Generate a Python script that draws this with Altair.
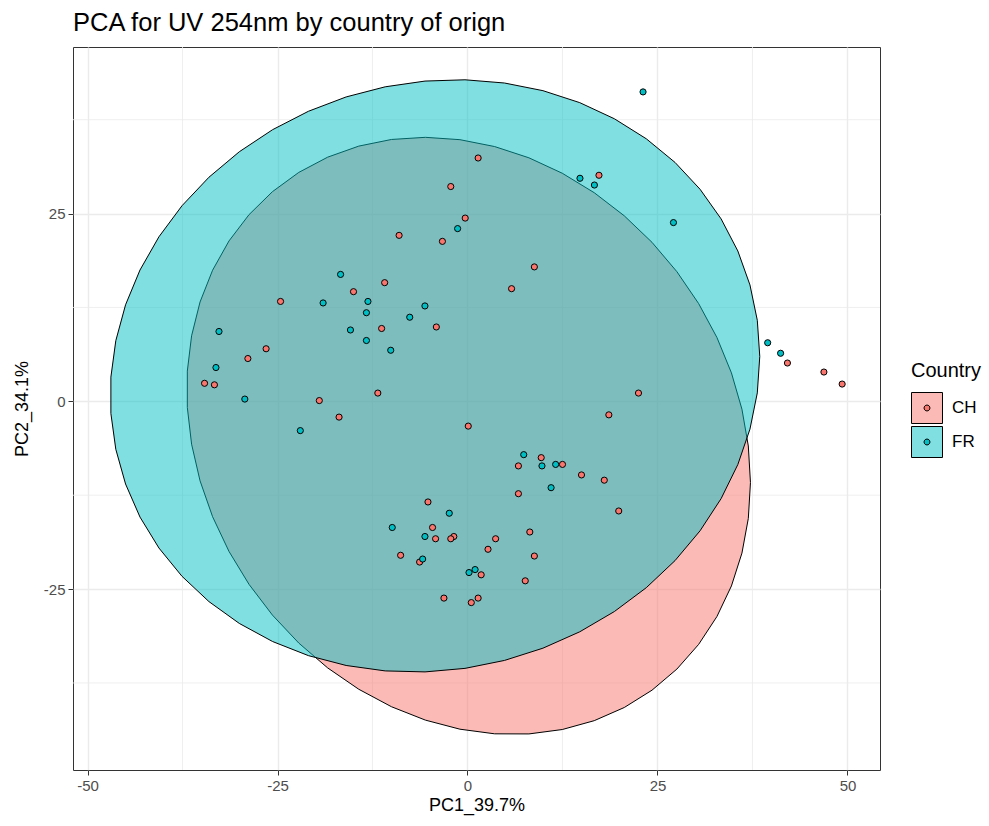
import numpy as np
import pandas as pd
import altair as alt

# PCA scores of the UV 254 nm profiles, one pair per sample
ch_pc1 = [1.4, -2.2, -0.3, -9.0, -3.3, 8.8, -10.9, 5.8, 17.3, -15.0,
          -24.6, -11.3, -26.5, -28.9, -34.6, -33.3, -19.5, -16.9, -11.8, -4.1,
          0.1, 42.1, 46.9, 49.3, 22.5, 18.6, 15.0, 18.0, 19.9, 9.7,
          6.7, 12.5, 6.7, -5.2, -4.6, -4.2, -1.8, -2.2, 3.7, 8.2,
          2.7, -8.8, -6.3, 8.8, 1.8, 7.6, -3.1, 1.4, 0.5]
ch_pc2 = [32.4, 28.6, 24.4, 22.1, 21.3, 17.9, 15.8, 15.0, 30.1, 14.6,
          13.3, 9.7, 7.0, 5.7, 2.4, 2.2, 0.1, -2.1, 1.1, 9.9,
          -3.3, 5.1, 3.9, 2.3, 1.1, -1.8, -9.8, -10.5, -14.6, -7.5,
          -8.6, -8.4, -12.3, -13.4, -16.8, -18.3, -18.0, -18.3, -18.3, -17.4,
          -19.7, -20.5, -21.4, -20.6, -23.1, -23.9, -26.2, -26.2, -26.8]

fr_pc1 = [23.1, -1.3, 14.8, 16.7, 27.1, -16.7, -19.0, -13.1, -13.3, -15.4,
          -13.3, -32.7, -33.1, -29.3, -22.0, -5.6, -7.6, -10.1, 39.5, 41.2,
          7.4, 9.8, 11.6, 11.0, -2.4, -9.9, -5.6, -5.9, 1.0, 0.2]
fr_pc2 = [41.2, 23.0, 29.7, 28.8, 23.8, 16.9, 13.1, 13.3, 11.8, 9.5,
          8.1, 9.3, 4.5, 0.3, -3.9, 12.7, 11.2, 6.8, 7.8, 6.4,
          -7.1, -8.6, -8.4, -11.5, -14.9, -16.8, -18.0, -21.0, -22.4, -22.8]

countries = ["CH", "FR"]
point_colors = ["#F8766D", "#00BFC4"]
ellipse_fills = ["rgba(248,118,109,0.5)", "rgba(0,191,196,0.5)"]

x_ticks = [-50, -25, 0, 25, 50]
y_ticks = [-25, 0, 25]
x_minor = [-37.5, -12.5, 12.5, 37.5]
y_minor = [-37.5, -12.5, 12.5, 37.5]

FONT = "Liberation Sans"


def t_ellipse(xs, ys, level=0.95, nu=5, segments=51):
    """95% ellipse from a robust multivariate-t fit (as in stat_ellipse, type 't')."""
    pts = np.column_stack([xs, ys]).astype(float)
    n, p = pts.shape
    wt = np.ones(n)
    loc = pts.mean(axis=0)
    w = np.sqrt(wt)
    X = pts - loc
    for _ in range(25):
        w0 = w
        X = pts - loc
        sw = np.sqrt(w / w.sum())
        _, d, vt = np.linalg.svd(sw[:, None] * X, full_matrices=False)
        wX = (X @ vt.T) / d
        q = (wX ** 2).sum(axis=1)
        w = wt * (nu + p) / (nu + q)
        loc = (w[:, None] * pts).sum(axis=0) / w.sum()
        if np.all(np.abs(w - w0) < 0.01):
            break
    sX = np.sqrt(w)[:, None] * X
    cov = sX.T @ sX / wt.sum()
    dfd = n - 1
    f_crit = dfd / 2 * ((1 - level) ** (-2 / dfd) - 1)  # F(2, dfd) quantile
    radius = np.sqrt(2 * f_crit)
    chol = np.linalg.cholesky(cov)
    ang = np.arange(segments + 1) * 2 * np.pi / segments
    circle = np.column_stack([np.cos(ang), np.sin(ang)])
    return loc + radius * circle @ chol.T


points = pd.concat([
    pd.DataFrame({"PC1": ch_pc1, "PC2": ch_pc2, "Country": "CH"}),
    pd.DataFrame({"PC1": fr_pc1, "PC2": fr_pc2, "Country": "FR"}),
], ignore_index=True)

ellipse_parts = []
for name, xs, ys in [("CH", ch_pc1, ch_pc2), ("FR", fr_pc1, fr_pc2)]:
    e = t_ellipse(xs, ys)
    ellipse_parts.append(pd.DataFrame({"PC1": e[:, 0], "PC2": e[:, 1],
                                       "Country": name, "i": np.arange(len(e))}))
ellipses = pd.concat(ellipse_parts, ignore_index=True)

x_scale = alt.Scale(domain=[-51.91, 54.28], nice=False, zero=False)
y_scale = alt.Scale(domain=[-49.09, 47.18], nice=False, zero=False)

axis_common = dict(
    grid=True, gridColor="#EBEBEB", gridWidth=1.4,
    domain=False, ticks=True, tickColor="#333333", tickWidth=1, tickSize=5,
    labelColor="#4D4D4D", labelFontSize=15, labelFont=FONT, labelPadding=3,
    labelExpr="'' + datum.value",
    titleFont=FONT, titleFontSize=18, titleFontWeight="normal", titleColor="black",
)
x_axis = alt.Axis(values=x_ticks, title="PC1_39.7%", titlePadding=3, **axis_common)
y_axis = alt.Axis(values=y_ticks, title="PC2_34.1%", titlePadding=12, **axis_common)

legend_common = dict(
    title="Country", orient="none", legendX=838, legendY=314, padding=0,
    symbolSize=961, symbolStrokeColor="black", symbolStrokeWidth=1,
    titleFont=FONT, titleFontSize=20, titleFontWeight="normal", titleColor="black",
    titlePadding=11, labelFont=FONT, labelFontSize=17, labelColor="black",
    labelOffset=9, rowPadding=-2,
)
box_legend = alt.Legend(symbolType="square", zindex=0, **legend_common)
dot_legend = alt.Legend(
    symbolType="M-1,-1M1,1M0.19,0A0.19,0.19,0,1,1,-0.19,0A0.19,0.19,0,1,1,0.19,0Z",
    titleOpacity=0, labelOpacity=0, zindex=1, **legend_common)

# minor grid lines (between the labelled breaks)
vgrid = alt.Chart(pd.DataFrame({"PC1": x_minor})).mark_rule(
    color="#EBEBEB", strokeWidth=0.8).encode(x=alt.X("PC1:Q", scale=x_scale, axis=x_axis))
hgrid = alt.Chart(pd.DataFrame({"PC2": y_minor})).mark_rule(
    color="#EBEBEB", strokeWidth=0.8).encode(y=alt.Y("PC2:Q", scale=y_scale, axis=y_axis))

ellipse_layer = alt.Chart(ellipses).mark_line(stroke="black", strokeWidth=1).encode(
    x=alt.X("PC1:Q", scale=x_scale, axis=x_axis),
    y=alt.Y("PC2:Q", scale=y_scale, axis=y_axis),
    fill=alt.Fill("Country:N", scale=alt.Scale(range=ellipse_fills), legend=box_legend),
    order=alt.Order("i:Q"),
)

point_layer = alt.Chart(points).mark_point(
    filled=True, size=38, stroke="black", strokeWidth=1, opacity=1).encode(
    x=alt.X("PC1:Q", scale=x_scale, axis=x_axis),
    y=alt.Y("PC2:Q", scale=y_scale, axis=y_axis),
    color=alt.Color("Country:N", scale=alt.Scale(range=point_colors), legend=dot_legend),
)

chart = alt.layer(vgrid, hgrid, ellipse_layer, point_layer).properties(
    width=807, height=723,
    background="white",
    title=alt.TitleParams("PCA for UV 254nm by country of orign", anchor="start",
                          frame="group", font=FONT, fontSize=25.5, fontWeight="normal",
                          color="black", offset=10),
    autosize=alt.AutoSizeParams(type="none"),
    padding={"left": 73, "top": 47, "right": 109, "bottom": 56},
).configure_view(stroke="#333333", strokeWidth=1)

chart.save("out.html", embed_options={"renderer": "svg", "actions": False})
